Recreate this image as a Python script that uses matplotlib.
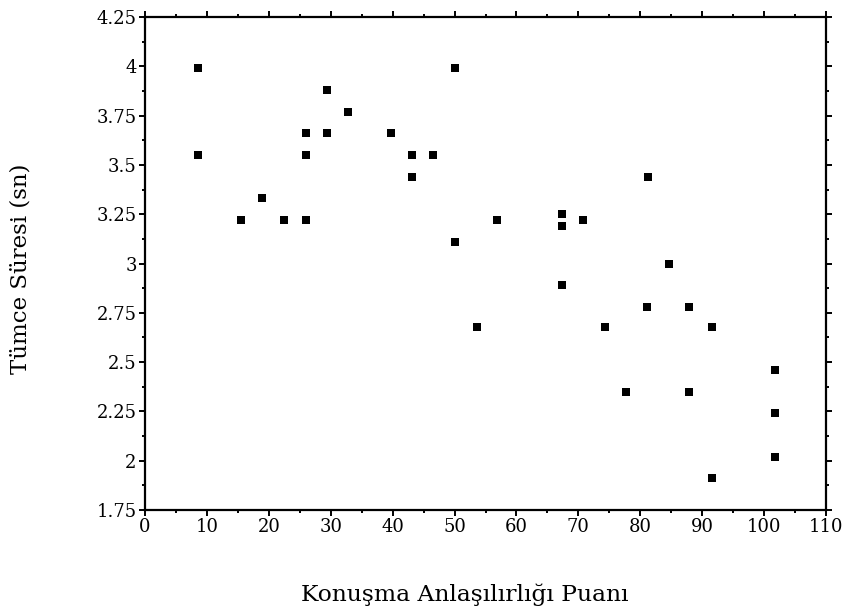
import numpy as np
import matplotlib.pyplot as plt
from matplotlib.ticker import MultipleLocator

# Konuşma anlaşılırlığı puanı vs tümce süresi
puan = [8.6, 8.6, 15.5, 18.9, 22.5, 26.0, 26.0, 26.0, 29.4, 29.4, 32.8,
        39.7, 43.1, 43.1, 46.5, 50.1, 50.1, 53.6, 56.9, 67.3, 67.3, 67.3,
        70.8, 74.3, 77.7, 81.1, 81.3, 84.7, 87.9, 87.9, 91.6, 91.6,
        101.8, 101.8, 101.8]
sure = [3.99, 3.55, 3.22, 3.33, 3.22, 3.66, 3.55, 3.22, 3.88, 3.66, 3.77,
        3.66, 3.55, 3.44, 3.55, 3.99, 3.11, 2.68, 3.22, 3.25, 3.19, 2.89,
        3.22, 2.68, 2.35, 2.78, 3.44, 3.00, 2.78, 2.35, 2.68, 1.91,
        2.46, 2.24, 2.02]
ytick_labels = ['1.75', '2', '2.25', '2.5', '2.75', '3', '3.25',
                '3.5', '3.75', '4', '4.25']

plt.rcParams['font.family'] = ['DejaVu Serif']

fig = plt.figure(figsize=(8.49, 6.09), dpi=100)
ax = fig.add_axes([0.1708, 0.1626, 0.8021, 0.8094])

ax.scatter(puan, sure, marker='s', s=28, color='black', linewidths=0)

ax.set_xlim(0, 110)
ax.set_ylim(1.75, 4.25)
ax.xaxis.set_major_locator(MultipleLocator(10))
ax.xaxis.set_minor_locator(MultipleLocator(5))
ax.yaxis.set_minor_locator(MultipleLocator(0.125))
ax.set_yticks(np.arange(1.75, 4.26, 0.25))
ax.set_yticklabels(ytick_labels)

for s in ax.spines.values():
    s.set_linewidth(1.6)
ax.tick_params(which='both', direction='out', top=True, right=True,
               width=1.4, labelsize=13)
ax.tick_params(which='major', length=4, pad=2)
ax.tick_params(which='minor', length=2.5)

ax.set_xlabel('Konuşma Anlaşılırlığı Puanı', fontsize=16.8)
ax.set_ylabel('Tümce Süresi (sn)', fontsize=16.5)
ax.xaxis.set_label_coords(0.47, -0.150)
ax.yaxis.set_label_coords(-0.166, 0.49)

fig.savefig('out.png', dpi=100)
